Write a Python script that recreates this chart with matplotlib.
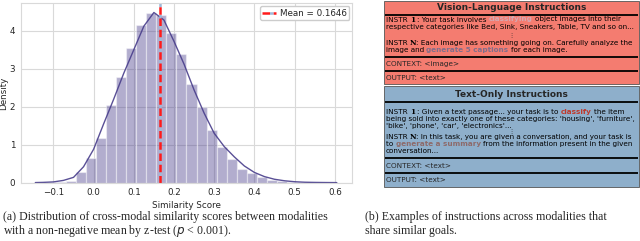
import matplotlib
matplotlib.use("Agg")
import matplotlib.pyplot as plt
import seaborn as sns
import numpy as np
from matplotlib.patches import Rectangle

# histogram of cross-modal similarity scores (density per bin)
bin_start = -0.144
bin_width = 0.025
bin_heights = [0.01, 0.01, 0.02, 0.05, 0.28, 0.64, 1.17, 2.04, 2.79, 3.55,
               4.15, 4.46, 4.41, 3.95, 3.40, 2.60, 2.00, 1.39, 0.95, 0.62,
               0.35, 0.25, 0.14, 0.07, 0.04, 0.02, 0.01, 0.008, 0.005, 0.003]

# kde curve
kde_x = [-0.145, -0.125, -0.1, -0.075, -0.05, -0.025, 0.0, 0.025, 0.05, 0.075,
         0.1, 0.125, 0.15, 0.175, 0.2, 0.225, 0.25, 0.275, 0.3, 0.325,
         0.35, 0.375, 0.4, 0.425, 0.45, 0.475, 0.5, 0.525, 0.55, 0.575, 0.605]
kde_y = [0.003, 0.008, 0.02, 0.06, 0.14, 0.42, 0.88, 1.55, 2.2, 2.88,
         3.5, 4.12, 4.48, 4.28, 3.72, 3.12, 2.44, 1.83, 1.3, 0.95,
         0.68, 0.44, 0.27, 0.16, 0.09, 0.05, 0.025, 0.012, 0.007, 0.004, 0.002]
mean_score = 0.1646

caption_a = ["(a) Distribution of cross-modal similarity scores between modalities",
             "with a non-negative mean by z-test ($p$ < 0.001)."]
caption_b = ["(b) Examples of instructions across modalities that",
             "share similar goals."]

# instruction panels: each line is a list of (text, style)
vl_title = "Vision-Language Instructions"
vl_instr = [
    [("INSTR ", "n"), ("1", "num"), (" : Your task involves ", "n"), ("classifying", "h1"),
     (" object images into their", "n")],
    [("respective categories like Bed, Sink, Sneakers, Table, TV and so on...", "n")],
    [("INSTR ", "n"), ("N", "num"), (": Each image has something going on. Carefully analyze the", "n")],
    [("image and ", "n"), ("generate 5 captions", "h2"), (" for each image.", "n")],
]
vl_context = "CONTEXT: <image>"
vl_output = "OUTPUT: <text>"

to_title = "Text-Only Instructions"
to_instr = [
    [("INSTR ", "n"), ("1", "num"), (" : Given a text passage... your task is to ", "n"),
     ("classify", "h3"), (" the item", "n")],
    [("being sold into exactly one of these categories: 'housing', 'furniture',", "n")],
    [("'bike', 'phone', 'car', 'electronics'...", "n")],
    [("INSTR ", "n"), ("N", "num"), (": In this task, you are given a conversation, and your task is", "n")],
    [("to ", "n"), ("generate a summary", "h4"), (" from the information present in the given", "n")],
    [("conversation...", "n")],
]
to_context = "CONTEXT: <text>"
to_output = "OUTPUT: <text>"

sns.set_style("whitegrid", {"grid.color": ".85", "axes.edgecolor": ".85"})
plt.rcParams["font.family"] = ["DejaVu Sans"]

fig = plt.figure(figsize=(6.4, 2.41), dpi=100)

# ---- left: histogram ----
ax = fig.add_axes([0.0323, 0.242, 0.5184, 0.744])
edges = bin_start + bin_width * np.arange(len(bin_heights))
ax.bar(edges, bin_heights, width=bin_width, align="edge", color="darkslateblue",
       alpha=0.42, edgecolor="white", linewidth=0.9)
ax.plot(kde_x, kde_y, color="darkslateblue", linewidth=1.0, alpha=0.9)
ax.axvline(mean_score, color="#ff1a1a", linestyle=(0, (3, 1.5)), linewidth=1.8,
           gapcolor="#9fb8d8", label=f"Mean = {mean_score:.4f}")
ax.set_xlim(-0.1815, 0.644)
ax.set_ylim(0, 4.72)
ax.set_xticks([-0.1, 0.0, 0.1, 0.2, 0.3, 0.4, 0.5, 0.6])
ax.set_yticks([0, 1, 2, 3, 4])
ax.tick_params(labelsize=6.3, colors=".15", length=0, pad=4)
ax.set_xlabel("Similarity Score", fontsize=6.3, labelpad=3)
ax.set_ylabel("Density", fontsize=6.3)
ax.yaxis.set_label_coords(-0.038, 0.5)
ax.legend(loc="upper right", fontsize=6.3, handlelength=1.6, handletextpad=0.5,
          borderpad=0.25, borderaxespad=0.35, framealpha=1)
for s in ax.spines.values():
    s.set_linewidth(0.8)

# ---- overlay in pixel coordinates for the right panel and captions ----
pan = fig.add_axes([0, 0, 1, 1], facecolor="none")
pan.set_xlim(0, 640)
pan.set_ylim(241, 0)
pan.axis("off")

r = fig.canvas.get_renderer()
TXT = 5.22
styles = {
    "n": dict(color="black", fontweight="normal", family="DejaVu Sans"),
    "num": dict(color="black", fontweight="bold", family="DejaVu Serif"),
    "h1": dict(color="#d4a9b2", fontweight="bold", family="DejaVu Sans"),
    "h2": dict(color="#7f6f8c", fontweight="bold", family="DejaVu Sans"),
    "h3": dict(color="#c0392b", fontweight="bold", family="DejaVu Sans"),
    "h4": dict(color="#8d6a6a", fontweight="bold", family="DejaVu Sans"),
}


def adv(s, st):
    a = pan.text(0, 0, "|" + s + "|", fontsize=TXT, **styles[st])
    b = pan.text(0, 0, "||", fontsize=TXT, **styles[st])
    w = a.get_window_extent(r).width - b.get_window_extent(r).width
    a.remove()
    b.remove()
    return w


def draw_line(x, y, parts):
    for s, st in parts:
        body = s.lstrip()
        off = adv(s, st) - adv(body, st) if body != s else 0
        pan.text(x + off, y, body, fontsize=TXT, va="center", ha="left", **styles[st])
        x += adv(s, st)


def draw_panel(top, bottom, face, title, instr, context, output, ys):
    x0, x1 = 384, 639
    pan.add_patch(Rectangle((x0, top), x1 - x0, bottom - top, facecolor=face,
                            edgecolor="#555555", linewidth=0.6))
    pan.text((x0 + x1) / 2, ys["title"], title, fontsize=6.5, fontweight="bold",
             ha="center", va="center")
    for yl in ys["rules"]:
        pan.plot([x0 + 1, x1 - 1], [yl, yl], color="black", linewidth=1.3,
                 solid_capstyle="butt")
    for i, parts in enumerate(instr):
        draw_line(386, ys["lines"][i], parts)
    pan.text(511.5, ys["dots"], "\u22ee", fontsize=4.5, ha="center", va="center")
    pan.text(386, ys["context"], context, fontsize=TXT, va="center")
    pan.text(386, ys["output"], output, fontsize=TXT, va="center")


draw_panel(0.5, 83.5, "#f47c70", vl_title, vl_instr, vl_context, vl_output,
           dict(title=7, rules=[15, 57.3, 70.7], lines=[19.5, 27.3, 42.7, 50],
                dots=35, context=63.8, output=78.3))
draw_panel(86, 186.7, "#8eafcb", to_title, to_instr, to_context, to_output,
           dict(title=94.5, rules=[101.7, 157.7, 172.7],
                lines=[111.7, 118.8, 125.7, 137.3, 144.3, 151],
                dots=131, context=165.5, output=180))

# ---- captions ----
for i, line in enumerate(caption_a):
    pan.text(3, 216.7 + 14.3 * i, line, fontsize=8.6, family="Liberation Serif",
             va="center", ha="left")
for i, line in enumerate(caption_b):
    pan.text(365, 216.7 + 14.3 * i, line, fontsize=8.6, family="Liberation Serif",
             va="center", ha="left")

fig.savefig("out.png", dpi=100)
